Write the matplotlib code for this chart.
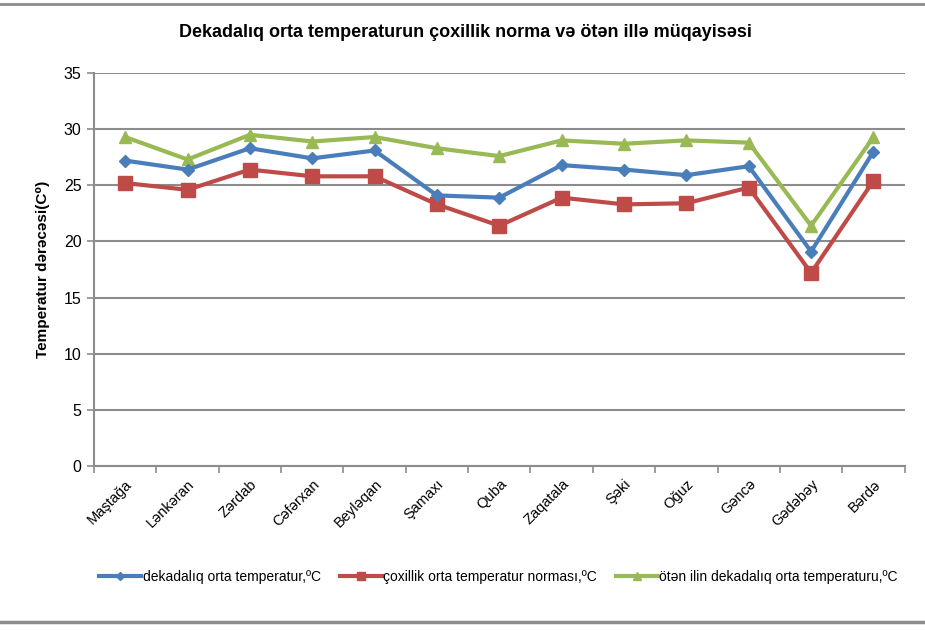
import matplotlib.pyplot as plt
from matplotlib.lines import Line2D
import numpy as np

stations = ['Maştağa', 'Lənkəran', 'Zərdab', 'Cəfərxan', 'Beyləqan', 'Şamaxı', 'Quba',
            'Zaqatala', 'Şəki', 'Oğuz', 'Gəncə', 'Gədəbəy', 'Bərdə']
dekada = [27.2, 26.4, 28.3, 27.4, 28.1, 24.1, 23.9, 26.8, 26.4, 25.9, 26.7, 19.1, 28.0]
norma = [25.2, 24.6, 26.4, 25.8, 25.8, 23.3, 21.4, 23.9, 23.3, 23.4, 24.8, 17.2, 25.4]
oten_il = [29.3, 27.3, 29.5, 28.9, 29.3, 28.3, 27.6, 29.0, 28.7, 29.0, 28.8, 21.4, 29.3]

labels = ['dekadalıq orta temperatur,ºC',
          'çoxillik orta temperatur norması,ºC',
          'ötən ilin dekadalıq orta temperaturu,ºC']

plt.rcParams['font.family'] = ['Liberation Sans', 'DejaVu Sans']

fig = plt.figure(figsize=(9.25, 6.3), dpi=100)
ax = fig.add_axes([0.1016, 0.2603, 0.8764, 0.6238])

x = np.arange(len(stations))
ax.plot(x, dekada, color='#4a7ebb', lw=3, marker='D', ms=6.5, label=labels[0], zorder=4)
ax.plot(x, norma, color='#be4b48', lw=3, marker='s', ms=9.5, label=labels[1], zorder=3)
ax.plot(x, oten_il, color='#98b954', lw=3, marker='^', ms=9, label=labels[2], zorder=2)

ax.set_xlim(-0.5, len(stations) - 0.5)
ax.set_ylim(0, 35)
ax.set_yticks(range(0, 36, 5))
ax.yaxis.grid(True, color='#8c8c8c', lw=1.5)
ax.set_axisbelow(True)

ax.set_xticks(x)
ax.set_xticklabels(stations, rotation=45, ha='right', rotation_mode='anchor', fontsize=10.5)
ax.set_xticks(np.arange(-0.5, len(stations), 1), minor=True)
ax.tick_params(axis='x', which='major', length=0, pad=8)
ax.tick_params(axis='x', which='minor', length=5, color='#8c8c8c', width=1.2)
ax.tick_params(axis='y', length=5, color='#8c8c8c', width=1.2, labelsize=11.5, pad=4)

for s in ['top', 'right']:
    ax.spines[s].set_visible(False)
for s in ['left', 'bottom']:
    ax.spines[s].set_color('#8c8c8c')
    ax.spines[s].set_linewidth(1.5)

ax.set_ylabel('Temperatur dərəcəsi(C⁰)', fontsize=11, fontweight='bold', labelpad=10)

fig.text(0.503, 0.949, 'Dekadalıq orta temperaturun çoxillik norma və ötən illə müqayisəsi',
         ha='center', va='center', fontsize=13, fontweight='bold')

fig.legend(loc='center left', bbox_to_anchor=(0.094, 0.084), ncol=3, frameon=False,
           prop={'size': 10}, handlelength=3.0, columnspacing=1.4,
           handletextpad=0.1, markerscale=0.6)

fig.add_artist(Line2D([0, 1], [0.994, 0.994], color='#8c8c8c', lw=2, transform=fig.transFigure))
fig.add_artist(Line2D([0, 1], [0.012, 0.012], color='#8c8c8c', lw=2.5, transform=fig.transFigure))

fig.savefig('out.png', dpi=100)
